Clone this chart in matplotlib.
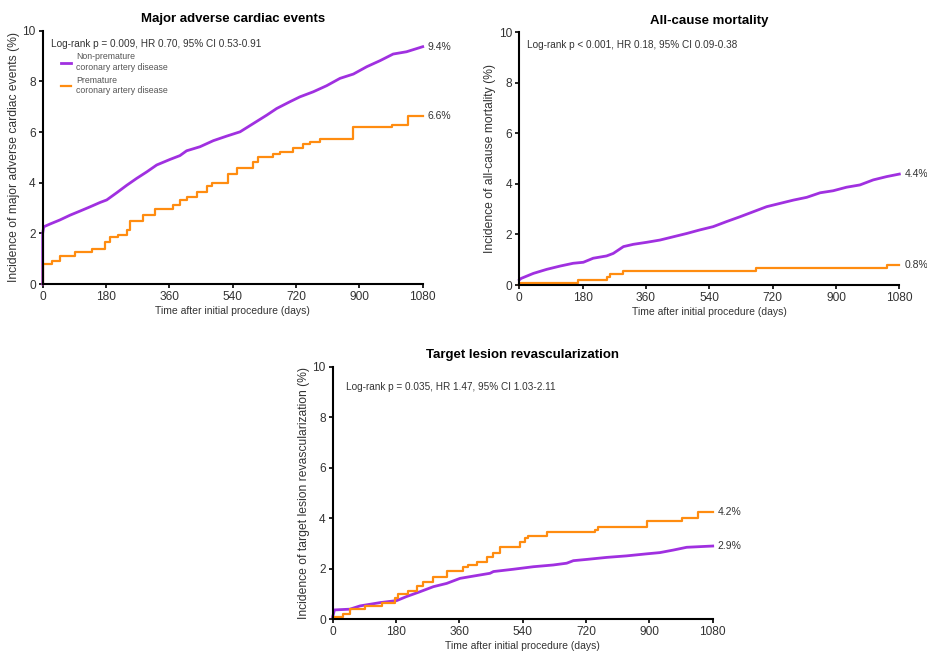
"""Cumulative incidence curves: premature vs non-premature coronary artery disease."""
import matplotlib
matplotlib.use("Agg")
import matplotlib.pyplot as plt

plt.rcParams["font.family"] = ["Liberation Sans", "DejaVu Sans"]

PURPLE = "#A030E0"
ORANGE = "#FF8C10"
GREY = "#333333"

XTICKS = [0, 180, 360, 540, 720, 900, 1080]
YTICKS = [0, 2, 4, 6, 8, 10]

# --- Major adverse cardiac events ---
mace_np_t = [0, 0, 3, 21, 49, 78, 106, 135, 163, 182, 210, 239, 267, 296, 324, 362,
             390, 409, 447, 485, 523, 561, 599, 637, 665, 703, 731, 769, 807, 845,
             883, 921, 959, 996, 1034, 1080]
mace_np_y = [0, 2.0, 2.26, 2.37, 2.53, 2.72, 2.88, 3.05, 3.22, 3.32, 3.6, 3.9, 4.17,
             4.43, 4.7, 4.92, 5.07, 5.26, 5.42, 5.66, 5.84, 6.01, 6.34, 6.67, 6.93,
             7.2, 7.39, 7.59, 7.83, 8.12, 8.29, 8.58, 8.82, 9.08, 9.17, 9.37]
mace_p_t = [0, 0, 26, 49, 92, 139, 178, 191, 215, 239, 248, 286, 319, 371, 390, 409,
            438, 466, 480, 527, 551, 599, 613, 655, 674, 712, 741, 760, 788, 883,
            992, 1039, 1080]
mace_p_y = [0, 0.79, 0.9, 1.12, 1.25, 1.4, 1.65, 1.84, 1.93, 2.13, 2.5, 2.72, 2.95,
            3.12, 3.3, 3.42, 3.64, 3.88, 4.0, 4.34, 4.57, 4.83, 5.0, 5.12, 5.22, 5.36,
            5.51, 5.62, 5.71, 6.18, 6.28, 6.63, 6.63]

# --- All-cause mortality ---
acm_np_t = [0, 5, 40, 78, 116, 153, 182, 210, 248, 267, 296, 324, 362, 400, 438, 476,
            513, 551, 589, 627, 665, 703, 741, 779, 817, 855, 892, 930, 968, 1006,
            1044, 1080]
acm_np_y = [0.2, 0.26, 0.46, 0.62, 0.75, 0.86, 0.9, 1.06, 1.15, 1.25, 1.52, 1.61,
            1.69, 1.78, 1.91, 2.04, 2.18, 2.31, 2.51, 2.7, 2.9, 3.1, 3.23, 3.36, 3.47,
            3.65, 3.73, 3.87, 3.96, 4.16, 4.29, 4.39]
acm_p_t = [0, 0, 168, 248, 258, 296, 674, 1044, 1080]
acm_p_y = [0, 0.09, 0.2, 0.33, 0.44, 0.55, 0.69, 0.79, 0.79]

# --- Target lesion revascularization ---
tlr_np_t = [0, 5, 49, 78, 135, 182, 210, 248, 286, 324, 362, 400, 447, 457, 513, 570,
            627, 665, 684, 722, 779, 835, 892, 930, 968, 1006, 1080]
tlr_np_y = [0.1, 0.37, 0.4, 0.53, 0.66, 0.74, 0.9, 1.09, 1.29, 1.42, 1.62, 1.71, 1.82,
            1.89, 1.98, 2.08, 2.15, 2.22, 2.32, 2.37, 2.45, 2.51, 2.59, 2.64, 2.74,
            2.85, 2.9]
tlr_p_t = [0, 28, 49, 92, 139, 177, 187, 215, 239, 258, 286, 324, 371, 385, 409, 438,
           457, 476, 532, 546, 556, 608, 746, 755, 892, 992, 1039, 1080]
tlr_p_y = [0.1, 0.21, 0.4, 0.53, 0.63, 0.83, 1.0, 1.13, 1.33, 1.46, 1.69, 1.93, 2.06,
           2.15, 2.27, 2.48, 2.64, 2.85, 3.07, 3.21, 3.31, 3.44, 3.54, 3.66, 3.9, 4.02,
           4.23, 4.23]

panels = [
    dict(rect=[0.046, 0.5657, 0.4095, 0.3873], title="Major adverse cardiac events",
         ylabel="Incidence of major adverse cardiac events (%)",
         stat="Log-rank p = 0.009, HR 0.70, 95% CI 0.53-0.91", stat_xy=(0.023, 0.968),
         np_=(mace_np_t, mace_np_y, "9.4%"), p_=(mace_p_t, mace_p_y, "6.6%"), legend=True),
    dict(rect=[0.5596, 0.5642, 0.4095, 0.3864], title="All-cause mortality",
         ylabel="Incidence of all-cause mortality (%)",
         stat="Log-rank p < 0.001, HR 0.18, 95% CI 0.09-0.38", stat_xy=(0.02, 0.968),
         np_=(acm_np_t, acm_np_y, "4.4%"), p_=(acm_p_t, acm_p_y, "0.8%"), legend=False),
    dict(rect=[0.3585, 0.0531, 0.4095, 0.3862], title="Target lesion revascularization",
         ylabel="Incidence of target lesion revascularization (%)",
         stat="Log-rank p = 0.035, HR 1.47, 95% CI 1.03-2.11", stat_xy=(0.034, 0.94),
         np_=(tlr_np_t, tlr_np_y, "2.9%"), p_=(tlr_p_t, tlr_p_y, "4.2%"), legend=False),
]

fig = plt.figure(figsize=(9.28, 6.54), dpi=100)

for pn in panels:
    ax = fig.add_axes(pn["rect"])
    t, y, lab = pn["np_"]
    ax.plot(t, y, color=PURPLE, lw=2.0, solid_joinstyle="round",
            label="Non-premature\ncoronary artery disease", clip_on=False)
    ax.text(t[-1] + 14, y[-1], lab, fontsize=7.5, color=GREY, va="center", ha="left")
    t, y, lab = pn["p_"]
    ax.step(t, y, where="post", color=ORANGE, lw=1.6,
            label="Premature\ncoronary artery disease", clip_on=False)
    ax.text(t[-1] + 14, y[-1], lab, fontsize=7.5, color=GREY, va="center", ha="left")

    ax.set_xlim(0, 1080)
    ax.set_ylim(0, 10)
    ax.set_xticks(XTICKS)
    ax.set_yticks(YTICKS)
    for side in ("top", "right"):
        ax.spines[side].set_visible(False)
    for side in ("left", "bottom"):
        ax.spines[side].set_linewidth(1.5)
    ax.tick_params(length=3, width=1.2, labelsize=8.6, labelcolor=GREY, pad=2)
    ax.set_title(pn["title"], fontsize=9.5, fontweight="bold", pad=6)
    ax.set_xlabel("Time after initial procedure (days)", fontsize=7.5, color=GREY, labelpad=2)
    ax.set_ylabel(pn["ylabel"], fontsize=8.7, color=GREY, labelpad=2)
    ax.text(*pn["stat_xy"], pn["stat"], transform=ax.transAxes, fontsize=7.2,
            color=GREY, va="top", ha="left")
    if pn["legend"]:
        leg = ax.legend(loc="upper left", bbox_to_anchor=(0.035, 0.935), frameon=False,
                        fontsize=6.3, handlelength=1.1, handletextpad=0.6,
                        labelspacing=0.45, borderaxespad=0.2)
        for txt in leg.get_texts():
            txt.set_color("#555555")

fig.savefig("out.png", dpi=100)
